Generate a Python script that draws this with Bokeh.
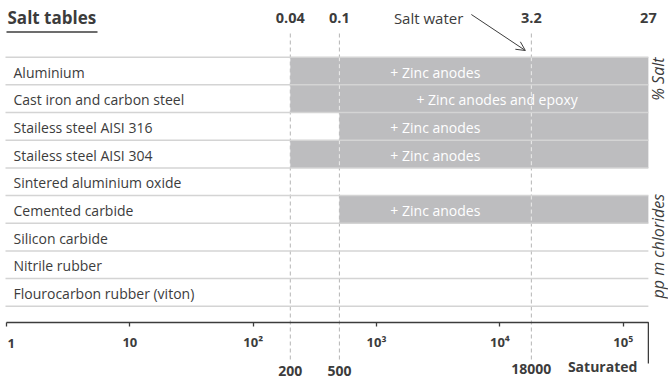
import math
from bokeh.plotting import figure
from bokeh.models import Range1d, LogAxis, FixedTicker, Arrow, OpenHead
from bokeh.core.properties import value
from bokeh.embed import file_html
from bokeh.resources import INLINE

# ---------------- data ----------------
materials = [
    "Aluminium",
    "Cast iron and carbon steel",
    "Stailess steel AISI 316",
    "Stailess steel AISI 304",
    "Sintered aluminium oxide",
    "Cemented carbide",
    "Silicon carbide",
    "Nitrile rubber",
    "Flourocarbon rubber (viton)",
]
# chloride level (ppm) from which extra protection is needed (None = none needed)
protect_from_ppm = [200, 200, 500, 200, None, 500, None, None, None]
protect_notes = ["+ Zinc anodes", "+ Zinc anodes and epoxy", "+ Zinc anodes", "+ Zinc anodes",
                 "", "+ Zinc anodes", "", "", ""]
note_center_ppm = [3000, 9500, 3000, 3000, None, 3000, None, None, None]

threshold_ppm = [200, 500, 18000]
threshold_ppm_labels = ["200", "500", "18000"]
threshold_salt_labels = ["0.04", "0.1", "3.2"]
saturated_ppm = 160000
saturated_salt_label = "27"
saturated_label = "Saturated"

axis_ticks = [1, 10, 100, 1000, 10000, 100000]
axis_tick_labels = ["1", "10", "10²", "10³", "10⁴", "10⁵"]

# ---------------- layout ----------------
W, H = 668, 381
PX_DEC = 123.34          # pixels per decade
X_ORIGIN = 6.0           # pixel of ppm = 1
ROW_PX = 27.67
ROW_TOP = 56.7
DY = -5                  # baseline correction for text glyphs (screen px)

def ry(px):
    return (px - ROW_TOP) / ROW_PX

def rx(px):
    return 10 ** ((px - X_ORIGIN) / PX_DEC)

TXT = "#3c3c3c"
BAR = "#bdbdbf"
FONT = value("Open Sans")

p = figure(width=W, height=H, output_backend="svg", toolbar_location=None,
           x_axis_type="log", x_axis_location=None, y_axis_location=None,
           x_range=Range1d(rx(0), rx(W)), y_range=Range1d(ry(H), ry(0)),
           min_border=0, outline_line_color=None)
p.grid.visible = False
p.background_fill_color = "white"
p.border_fill_color = "white"

n = len(materials)

# dashed threshold lines (under bars)
p.segment(x0=threshold_ppm, x1=threshold_ppm, y0=[ry(33)] * 3, y1=[ry(361)] * 3,
          line_color="#b4b4b4", line_width=1, line_dash="4 3")

# bars
rows = [i for i in range(n) if protect_from_ppm[i] is not None]
p.quad(left=[protect_from_ppm[i] for i in rows], right=[saturated_ppm] * len(rows),
       top=[i for i in rows], bottom=[i + 1 for i in rows],
       fill_color=BAR, line_color=None)

# light dashes where thresholds cross bars
wx, wy0, wy1 = [], [], []
for i in rows:
    for t in threshold_ppm:
        if t > protect_from_ppm[i]:
            wx.append(t); wy0.append(i); wy1.append(i + 1)
p.segment(x0=wx, x1=wx, y0=wy0, y1=wy1, line_color="#ececec", line_width=1, line_dash="4 3")

# row separators
seps = list(range(n + 1))
p.segment(x0=[rx(5)] * len(seps), x1=[saturated_ppm] * len(seps), y0=seps, y1=seps,
          line_color="#d4d4d4", line_width=1.5)

# row labels
p.text(x=[1] * n, y=[i + 0.72 for i in range(n)], text=materials, x_offset=7, y_offset=DY,
       text_font=FONT, text_font_size="14px", text_color=TXT,
       text_align="left", text_baseline="alphabetic")

# bar notes
p.text(x=[note_center_ppm[i] for i in rows], y=[i + 0.72 for i in rows],
       text=[protect_notes[i] for i in rows], y_offset=DY,
       text_font=FONT, text_font_size="14px", text_color="white",
       text_align="center", text_baseline="alphabetic")

# title
p.text(x=[1], y=[ry(23)], text=["Salt tables"], x_offset=1, y_offset=DY - 1,
       text_font=FONT, text_font_size="17px", text_font_style="bold", text_color=TXT,
       text_baseline="alphabetic")
p.segment(x0=[1], x1=[rx(97)], y0=[ry(31.5)], y1=[ry(31.5)], line_color=TXT, line_width=1.5)

# top % salt labels
p.text(x=threshold_ppm + [saturated_ppm], y=[ry(22.5)] * 4,
       text=threshold_salt_labels + [saturated_salt_label], y_offset=DY,
       text_font=FONT, text_font_size="14.5px", text_font_style="bold", text_color=TXT,
       text_align="center", text_baseline="alphabetic")

# salt water note + arrow (placed relative to the 18000 ppm line)
line_px = X_ORIGIN + math.log10(threshold_ppm[2]) * PX_DEC
p.text(x=[threshold_ppm[2]], y=[ry(22.7)], text=["Salt water"], x_offset=-68, y_offset=DY,
       text_font=FONT, text_font_size="15px", text_color=TXT,
       text_align="right", text_baseline="alphabetic")
p.add_layout(Arrow(end=OpenHead(size=9, line_color=TXT, line_width=1),
                   x_start=rx(line_px - 60), y_start=ry(14),
                   x_end=rx(line_px - 6), y_end=ry(50),
                   line_color=TXT, line_width=1))

# axis
ax = LogAxis(fixed_location=ry(321.7), ticker=FixedTicker(ticks=axis_ticks),
             bounds=(1, saturated_ppm))
overrides = {t: l for t, l in zip(axis_ticks, axis_tick_labels)}
overrides[1] = ""
ax.major_label_overrides = overrides
ax.axis_line_color = TXT
ax.axis_line_width = 1.3
ax.major_tick_line_color = TXT
ax.major_tick_line_width = 1.3
ax.major_tick_in = 0
ax.major_tick_out = 4
ax.minor_tick_in = 0
ax.minor_tick_out = 0
ax.major_label_standoff = 7
ax.major_label_text_font = "Noto Sans"
ax.major_label_text_font_size = "13px"
ax.major_label_text_font_style = "bold"
ax.major_label_text_color = TXT
p.add_layout(ax, "below")

# first tick label, left-aligned at the axis start
p.text(x=[axis_ticks[0]], y=[ry(348.3)], text=[axis_tick_labels[0]], x_offset=1, y_offset=DY,
       text_font=value("Noto Sans"), text_font_size="13px", text_font_style="bold",
       text_color=TXT, text_align="left", text_baseline="alphabetic")

# saturated end line
p.segment(x0=[saturated_ppm], x1=[saturated_ppm], y0=[ry(321.7)], y1=[ry(363)],
          line_color=TXT, line_width=1.3)

# bottom ppm labels
p.text(x=threshold_ppm, y=[ry(375), ry(375), ry(373.5)], text=threshold_ppm_labels, y_offset=DY,
       text_font=FONT, text_font_size="14px", text_font_style="bold", text_color=TXT,
       text_align="center", text_baseline="alphabetic")
p.text(x=[saturated_ppm], y=[ry(371)], text=[saturated_label], x_offset=-11, y_offset=DY,
       text_font=FONT, text_font_size="14px", text_font_style="bold", text_color=TXT,
       text_align="right", text_baseline="alphabetic")

# right-hand rotated unit labels
p.text(x=[saturated_ppm], y=[ry(57)], text=["% Salt"],
       x_offset=10, angle=math.pi / 2,
       text_font=FONT, text_font_size="16px", text_font_style="italic", text_color=TXT,
       text_align="right", text_baseline="middle")
p.text(x=[saturated_ppm], y=[ry(298)], text=["pp m chlorides"],
       x_offset=10, angle=math.pi / 2,
       text_font=FONT, text_font_size="16px", text_font_style="italic", text_color=TXT,
       text_align="left", text_baseline="middle")

open("out.html", "w").write(file_html(p, INLINE))
